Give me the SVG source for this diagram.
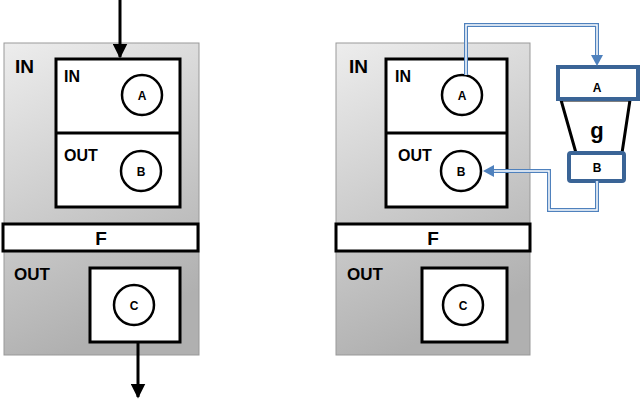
<svg xmlns="http://www.w3.org/2000/svg" width="640" height="401" viewBox="0 0 640 401">
<defs>
<linearGradient id="gr" x1="0" y1="0" x2="0.3" y2="1"><stop offset="0" stop-color="#ededed"/><stop offset="1" stop-color="#b0b0b0"/></linearGradient>
<marker id="ak" viewBox="0 0 10 10" refX="9" refY="5" markerWidth="5" markerHeight="5" orient="auto"><path d="M0,0L10,5L0,10z" fill="#000"/></marker>
<style>
.outer{fill:url(#gr);stroke:#999;stroke-width:1}
.box{fill:#fff;stroke:#000;stroke-width:3}
.c{fill:#fff;stroke:#000;stroke-width:2.5}
.t{font-family:"Liberation Sans",Arial,sans-serif;font-weight:bold;fill:#000}
.L{font-size:19px}.s{font-size:12px}
.bl{fill:none;stroke:#4f81bd;stroke-width:4}
.wl{fill:none;stroke:#fff;stroke-width:1.5}
.gb{fill:#fff;stroke:#3a6496;stroke-width:4}
</style>
</defs>
<g id="left">
<rect class="outer" x="4" y="43" width="195" height="312"/>
<text class="t L" x="15" y="73">IN</text>
<rect class="box" x="56" y="59" width="124" height="148"/>
<line x1="56" y1="133" x2="180" y2="133" stroke="#000" stroke-width="3"/>
<text class="t" x="64" y="82" font-size="16">IN</text>
<text class="t" x="64" y="161" font-size="16">OUT</text>
<circle class="c" cx="142" cy="95" r="20"/><text class="t s" x="142" y="100" text-anchor="middle">A</text>
<circle class="c" cx="141" cy="171" r="20"/><text class="t s" x="141" y="176" text-anchor="middle">B</text>
<rect class="box" x="3" y="224" width="195" height="27"/>
<text class="t L" x="101" y="245" text-anchor="middle">F</text>
<text class="t" x="14" y="280" font-size="17">OUT</text>
<rect class="box" x="90" y="268" width="90" height="74"/>
<circle class="c" cx="134" cy="305" r="20"/><text class="t s" x="134" y="310" text-anchor="middle">C</text>
</g>
<g id="right">
<rect class="outer" x="336" y="43" width="194" height="312"/>
<text class="t L" x="349" y="73">IN</text>
<rect class="box" x="386" y="59" width="121" height="148"/>
<line x1="386" y1="133" x2="507" y2="133" stroke="#000" stroke-width="3"/>
<text class="t" x="395" y="82" font-size="16">IN</text>
<text class="t" x="398" y="161" font-size="16">OUT</text>
<circle class="c" cx="462" cy="95" r="20"/><text class="t s" x="462" y="100" text-anchor="middle">A</text>
<circle class="c" cx="461" cy="171" r="20"/><text class="t s" x="461" y="176" text-anchor="middle">B</text>
<rect class="box" x="336" y="224" width="194" height="27"/>
<text class="t L" x="433" y="245" text-anchor="middle">F</text>
<text class="t" x="347" y="280" font-size="17">OUT</text>
<rect class="box" x="422" y="268" width="85" height="74"/>
<circle class="c" cx="463" cy="305" r="20"/><text class="t s" x="463" y="310" text-anchor="middle">C</text>
</g>
<g id="g">
<polygon points="561,100 630,100 622,153 576,153" fill="#fff" stroke="#000" stroke-width="3"/>
<rect class="gb" x="558" y="67" width="80" height="32"/>
<text class="t s" x="597" y="92" text-anchor="middle">A</text>
<text class="t" x="597" y="138" font-size="22" text-anchor="middle" font-family="Liberation Serif,serif">g</text>
<rect class="gb" x="569" y="153" width="55" height="28" rx="2"/>
<text class="t s" x="597" y="172" text-anchor="middle">B</text>
</g>
<g id="connectors">
<line x1="120" y1="0" x2="120" y2="57" stroke="#000" stroke-width="3" marker-end="url(#ak)"/>
<line x1="138" y1="343" x2="138" y2="397" stroke="#000" stroke-width="3" marker-end="url(#ak)"/>
<path class="bl" d="M466,75V25H597V58"/>
<path class="wl" d="M466,75V25H597V58"/>
<path d="M591,55L597,66L603,55z" fill="#4f81bd"/>
<path class="bl" d="M597,181V210H549V171H490"/>
<path class="wl" d="M597,181V210H549V171H490"/>
<path d="M494,165L483,171L494,177z" fill="#4f81bd"/>
</g>
</svg>
